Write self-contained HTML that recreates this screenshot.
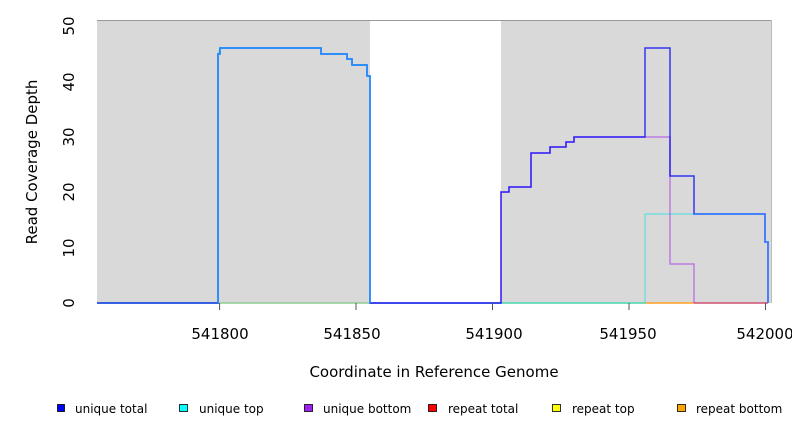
<!DOCTYPE html><html><head><style>body{margin:0;background:#fff}svg{display:block;font-family:"DejaVu Sans","Liberation Sans",sans-serif}</style></head><body>
<svg width="792" height="432" viewBox="0 0 792 432" xmlns="http://www.w3.org/2000/svg">
<rect x="97" y="20" width="273" height="283" fill="#d9d9d9"/>
<rect x="501" y="20" width="270" height="283" fill="#d9d9d9"/>
<line x1="97" y1="20.5" x2="771" y2="20.5" stroke="#999" stroke-width="1"/>
<line x1="771.5" y1="20" x2="771.5" y2="303" stroke="#bbb" stroke-width="1"/>
<!-- baseline -->
<line x1="97" y1="303" x2="645" y2="303" stroke="#8fce8f" stroke-width="1.5"/>
<line x1="645" y1="303" x2="694" y2="303" stroke="#ffa020" stroke-width="1.5"/>
<line x1="694" y1="303" x2="768" y2="303" stroke="#d05070" stroke-width="1.5"/>
<!-- cyan unique top -->
<polyline fill="none" stroke="#00e5e5" stroke-opacity="0.45" stroke-width="1.5" points="97,303 218,303 218,54 220,48 220,48 321,48 321,54 347,54 347,59 352,59 352,65 367,65 367,76 370,76 370,303 645,303 645,214 765,214 765,242 768,242 768,303"/>
<!-- purple unique bottom -->
<polyline fill="none" stroke="#a020f0" stroke-opacity="0.5" stroke-width="1.5" points="370,303 501,303 501,192 509,192 509,187 531,187 531,153 550,153 550,147 566,147 566,142 574,142 574,137 670,137 670,264 694,264 694,303"/>
<!-- blue unique total -->
<polyline fill="none" stroke="#0000ff" stroke-opacity="0.75" stroke-width="1.5" points="97,303 218,303 218,54 220,54 220,48 321,48 321,54 347,54 347,59 352,59 352,65 367,65 367,76 370,76 370,303 501,303 501,192 509,192 509,187 531,187 531,153 550,153 550,147 566,147 566,142 574,142 574,137 645,137 645,48 670,48 670,176 694,176 694,214 765,214 765,242 768,242 768,303"/>
<polyline fill="none" stroke="#1e90ff" stroke-width="1.5" points="218,303 218,54 220,54 220,48 321,48 321,54 347,54 347,59 352,59 352,65 367,65 367,76 370,76 370,303"/>
<polyline fill="none" stroke="#3a80ff" stroke-width="1.5" points="694,214 765,214 765,242 768,242 768,303"/>
<!-- x ticks -->
<g stroke="#555" stroke-width="1">
<line x1="219.6" y1="303" x2="219.6" y2="310"/><line x1="356" y1="303" x2="356" y2="310"/><line x1="492.5" y1="303" x2="492.5" y2="310"/><line x1="629" y1="303" x2="629" y2="310"/><line x1="765.5" y1="303" x2="765.5" y2="310"/>
</g>
<g font-size="15" fill="#000" text-anchor="middle">
<text x="220" y="339">541800</text><text x="352" y="339">541850</text><text x="494" y="339">541900</text><text x="628" y="339">541950</text><text x="765" y="339">542000</text>
<text x="434" y="377">Coordinate in Reference Genome</text>
</g>
<g font-size="15" fill="#000" text-anchor="middle">
<text transform="translate(74,303) rotate(-90)">0</text>
<text transform="translate(74,248) rotate(-90)">10</text>
<text transform="translate(74,192) rotate(-90)">20</text>
<text transform="translate(74,137) rotate(-90)">30</text>
<text transform="translate(74,82) rotate(-90)">40</text>
<text transform="translate(74,26) rotate(-90)">50</text>
<text transform="translate(37,162) rotate(-90)">Read Coverage Depth</text>
</g>
<g font-size="12" fill="#000" stroke="#000" stroke-width="0.8">
<rect x="57.5" y="404.5" width="7" height="7" fill="#0000ff"/>
<rect x="179.5" y="404.5" width="8" height="7" fill="#00ffff"/>
<rect x="304.5" y="404.5" width="8" height="7" fill="#a020f0"/>
<rect x="428.5" y="404.5" width="8" height="7" fill="#ff0000"/>
<rect x="552.5" y="404.5" width="8" height="7" fill="#ffff00"/>
<rect x="677.5" y="404.5" width="8" height="7" fill="#ffa500"/>
</g>
<g font-size="12" fill="#000">
<text x="75" y="413">unique total</text><text x="199" y="413">unique top</text><text x="323" y="413">unique bottom</text><text x="448" y="413">repeat total</text><text x="572" y="413">repeat top</text><text x="696" y="413">repeat bottom</text>
</g>
</svg></body></html>
